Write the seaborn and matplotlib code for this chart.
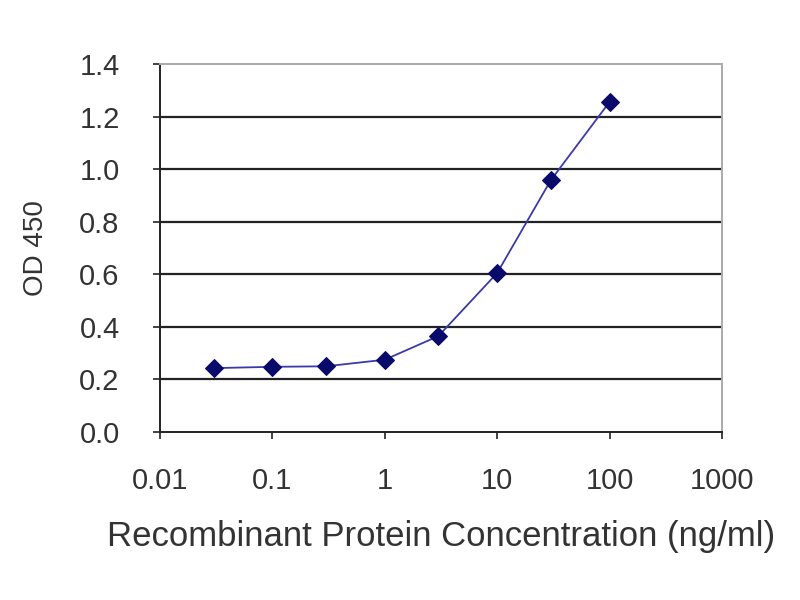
import matplotlib
matplotlib.use("Agg")
import matplotlib.pyplot as plt
import seaborn as sns
import pandas as pd

concentration = [0.03, 0.1, 0.3, 1, 3, 10, 30, 100]
od450 = [0.243, 0.248, 0.250, 0.275, 0.365, 0.605, 0.958, 1.256]
y_ticks = [0.0, 0.2, 0.4, 0.6, 0.8, 1.0, 1.2, 1.4]
y_tick_labels = ["0.0", "0.2", "0.4", "0.6", "0.8", "1.0", "1.2", "1.4"]
x_ticks = [0.01, 0.1, 1, 10, 100, 1000]
x_tick_labels = ["0.01", "0.1", "1", "10", "100", "1000"]

df = pd.DataFrame({"conc": concentration, "od": od450})

sns.set_style("white")
plt.rcParams["font.family"] = ["Liberation Sans", "DejaVu Sans"]

fig = plt.figure(figsize=(8, 6), dpi=100)
ax = fig.add_axes([0.2, 0.28, 0.7025, 0.6133])

for yv in y_ticks[1:-1]:
    ax.axhline(yv, color="#222222", lw=1.6, zorder=1)

sns.lineplot(data=df, x="conc", y="od", ax=ax, color="#3a3aa8", lw=1.3,
             marker="D", markersize=9, markerfacecolor="#0a0a6a",
             markeredgecolor="#0a0a6a", zorder=3)

ax.set_xscale("log")
ax.set_xlim(0.01, 1000)
ax.set_ylim(0, 1.4)
ax.set_xticks(x_ticks)
ax.set_xticklabels(x_tick_labels)
ax.minorticks_off()
ax.set_yticks(y_ticks)
ax.set_yticklabels(y_tick_labels)

ax.tick_params(axis="both", which="major", direction="out", length=5, width=1.2,
               color="#222222", labelsize=21, labelcolor="#333333",
               bottom=True, left=True)
ax.tick_params(axis="x", pad=20)
ax.tick_params(axis="y", pad=24)

for s in ["left", "bottom"]:
    ax.spines[s].set_color("#222222")
    ax.spines[s].set_linewidth(1.4)
for s in ["top", "right"]:
    ax.spines[s].set_color("#aaaaaa")
    ax.spines[s].set_linewidth(1.4)

ax.set_xlabel("Recombinant Protein Concentration (ng/ml)", fontsize=25,
              color="#333333", labelpad=18)
ax.set_ylabel("OD 450", fontsize=20, color="#333333", labelpad=22)

fig.savefig("out.png", dpi=100, facecolor="white")
